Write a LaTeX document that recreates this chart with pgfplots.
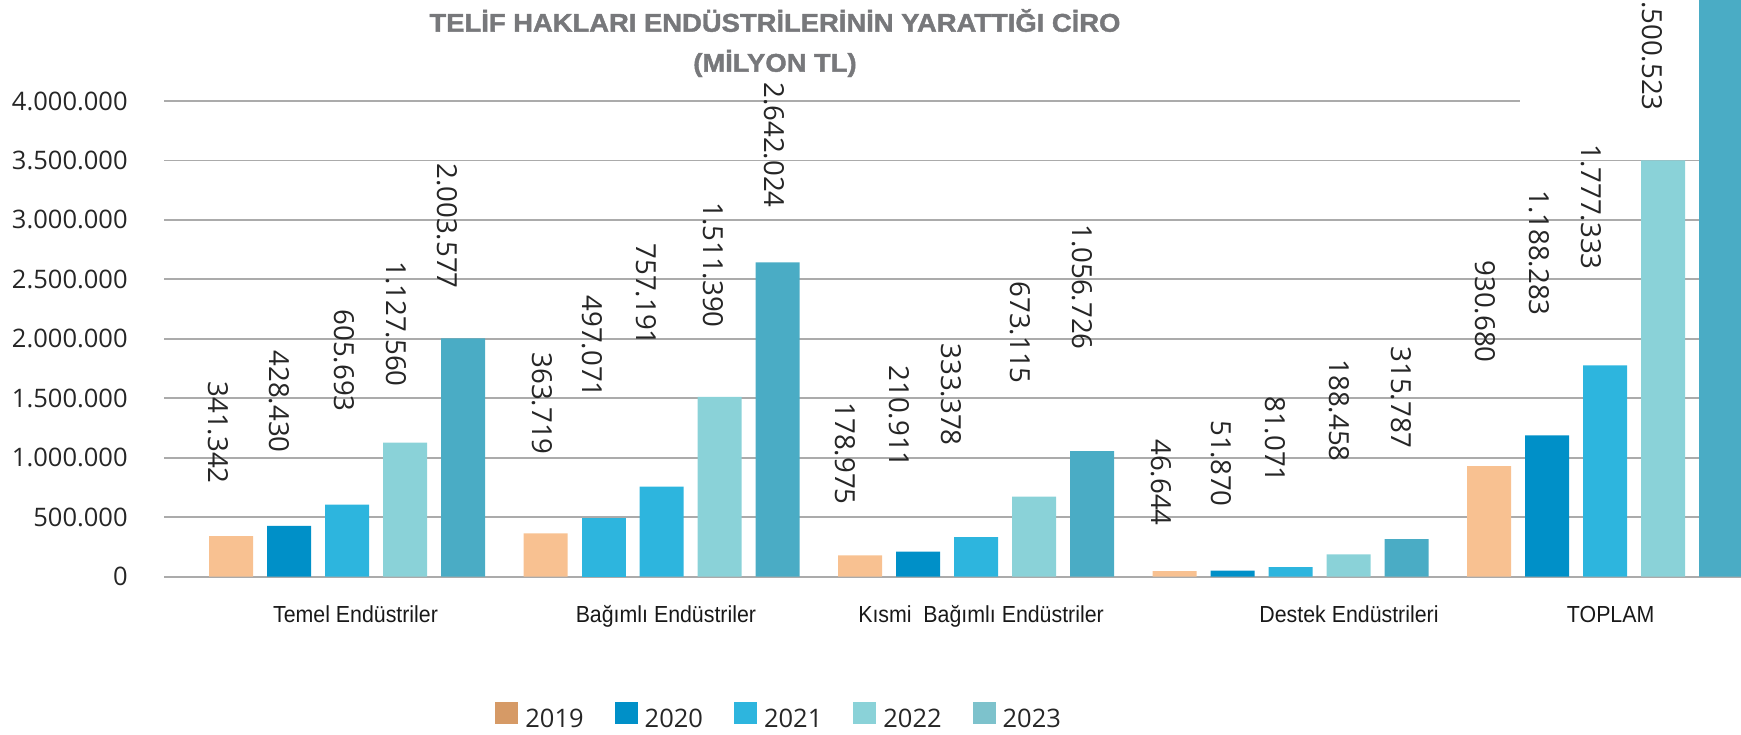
\documentclass[border=0pt]{standalone}
\usepackage{fontspec}
\setmainfont{Open Sans}
\newfontfamily\catfont{Liberation Sans}[FakeStretch=0.92]
\newfontfamily\titlefont{Liberation Sans}[FakeStretch=1.07, FakeBold=1.6]
\usepackage{pgfplots}
\usepackage{pgfplotstable}
\pgfplotsset{compat=1.18}

\definecolor{c19}{HTML}{F8C191}
\definecolor{c20}{HTML}{0090C8}
\definecolor{c21}{HTML}{2DB5DE}
\definecolor{c22}{HTML}{8AD2D8}
\definecolor{c23}{HTML}{4AACC5}
\definecolor{l19}{HTML}{D69A66}
\definecolor{l23}{HTML}{7DC2CC}
\definecolor{gridc}{HTML}{ABABAB}
\definecolor{txt}{HTML}{262626}
\definecolor{titc}{HTML}{77787B}

\pgfplotstableread{
x y19 y20 y21 y22 y23
0 341342 428430 605693 1127560 2003577
1 363719 497071 757191 1511390 2642024
2 178975 210911 333378 673115 1056726
3 46644 51870 81071 188458 315787
4 930680 1188283 1777333 3500523 6018114
}\bars

\pgfplotstableread{
x y lab
-0.408 779500 341.342
-0.214 1040160 428.430
-0.0095 1384910 605.693
0.156 1595130 1.127.560
0.318 2419180 2.003.577
0.620 1023340 363.719
0.779 1502640 497.071
0.951 1939890 757.191
1.164 2091240 1.511.390
1.358 3100290 2.642.024
1.583 602900 178.975
1.755 914030 210.911
1.921 1099020 333.378
2.140 1620360 673.115
2.337 1906250 1.056.726
2.588 426320 46.644
2.779 586090 51.870
2.951 787900 81.071
3.154 964480 188.458
3.351 1073790 315.787
3.618 1796940 930.680
3.790 2192150 1.188.283
3.955 2578950 1.777.333
4.149 3915930 3.500.523
}\labels

\begin{document}
\begin{tikzpicture}
\begin{axis}[
  at={(82pt,78.65pt)}, anchor=south west,
  scale only axis, width=812pt, height=237.85pt,
  xmin=-0.5819, xmax=4.5819, ymin=0, ymax=4000000,
  clip=false,
  axis line style={draw=none},
  ytick={0,500000,1000000,1500000,2000000,2500000,3000000,3500000},
  extra y ticks={4000000},
  extra y tick style={grid=none},
  ymajorgrids,
  grid style={gridc, line width=0.9pt},
  major tick length=0pt,
  scaled y ticks=false,
  yticklabel style={/pgf/number format/.cd, fixed, 1000 sep={.}, assume math mode=true, /tikz/.cd,
    font=\fontsize{12.75}{14}\selectfont, text=txt, inner sep=0pt, anchor=east, xshift=-18pt},
  xtick={0.027,1.014,2.016,3.186,4.018},
  xticklabels={Temel Endüstriler, Bağımlı Endüstriler, Kısmi\ \ Bağımlı Endüstriler, Destek Endüstrileri, TOPLAM},
  xticklabel style={font=\catfont\fontsize{11.6}{13}\selectfont, text=black!90, anchor=base, inner sep=0pt, yshift=-22.65pt},
  title={TELİF HAKLARI ENDÜSTRİLERİNİN YARATTIĞI CİRO\\(MİLYON TL)},
  title style={at={(0.3762,1.1688)}, anchor=north, align=center, inner sep=0pt,
    font=\titlefont\bfseries\fontsize{12.8}{20}\selectfont, text=titc},
  legend columns=5,
  legend style={at={(0.2038,-0.2634)}, anchor=north west, draw=none, fill=none, inner sep=0pt,
    column sep=3.5pt, nodes={inner sep=0pt},
    font=\fontsize{12.75}{14}\selectfont, text=txt,
    /tikz/every even column/.append style={column sep=15.5pt}},
  legend image code/.code={\path[#1, draw=none] (0pt,-2.5pt) rectangle (11.5pt,8.5pt);},
]
\addplot[ybar, bar width=22pt, bar shift=-58pt, fill=c19, draw=none, forget plot] table[x=x, y=y19] {\bars};
\addplot[ybar, bar width=22pt, bar shift=-29pt, fill=c20, draw=none, forget plot, skip coords between index={1}{2}] table[x=x, y=y20] {\bars};
\addplot[ybar, bar width=22pt, bar shift=-29pt, fill=c21, draw=none, forget plot, skip coords between index={0}{1}, skip coords between index={2}{5}] table[x=x, y=y20] {\bars};
\addplot[ybar, bar width=22pt, bar shift=0pt, fill=c21, draw=none, forget plot] table[x=x, y=y21] {\bars};
\addplot[ybar, bar width=22pt, bar shift=29pt, fill=c22, draw=none, forget plot] table[x=x, y=y22] {\bars};
\addplot[ybar, bar width=22pt, bar shift=58pt, fill=c23, draw=none, forget plot] table[x=x, y=y23] {\bars};
\draw[gridc, line width=0.9pt] (axis cs:-0.5819,4000000) -- (axis cs:3.730,4000000);
\addplot[draw=none, mark=none, forget plot, nodes near coords, point meta=explicit symbolic,
  nodes near coords align={anchor=east},
  every node near coord/.append style={rotate=-90, anchor=east, inner sep=0pt, text=txt,
    font=\fontsize{13.8}{15}\selectfont}]
  table[x=x, y=y, meta=lab] {\labels};
\addlegendimage{fill=l19, draw=none}
\addlegendentry{2019}
\addlegendimage{fill=c20, draw=none}
\addlegendentry{2020}
\addlegendimage{fill=c21, draw=none}
\addlegendentry{2021}
\addlegendimage{fill=c22, draw=none}
\addlegendentry{2022}
\addlegendimage{fill=l23, draw=none}
\addlegendentry{2023}
\end{axis}
\pgfresetboundingbox
\useasboundingbox (0,0) rectangle (870.5pt,367pt);
\end{tikzpicture}
\end{document}
